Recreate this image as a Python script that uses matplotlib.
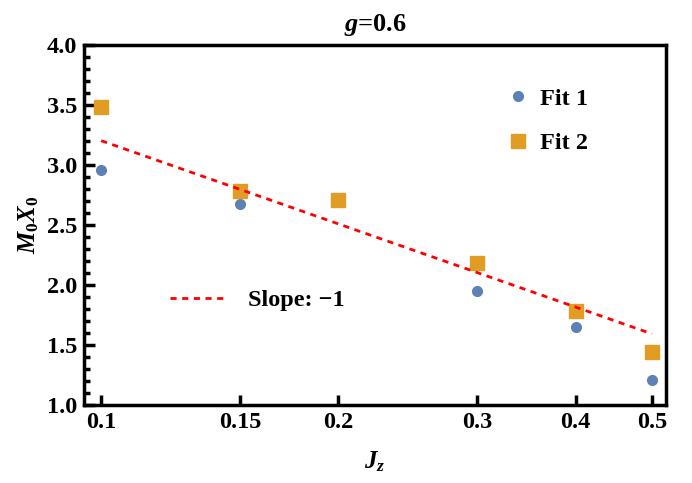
import numpy as np
import matplotlib
matplotlib.use("Agg")
import matplotlib.pyplot as plt
from matplotlib.ticker import FixedLocator, FixedFormatter, NullLocator, MultipleLocator

plt.rcParams['font.family'] = ['Liberation Serif', 'DejaVu Serif']
plt.rcParams['mathtext.fontset'] = 'custom'
plt.rcParams['mathtext.it'] = 'Liberation Serif:italic:bold'
plt.rcParams['mathtext.rm'] = 'Liberation Serif:bold'
plt.rcParams['mathtext.bf'] = 'Liberation Serif:bold'

# Data
fit1_x = [0.1, 0.15, 0.3, 0.4, 0.5]
fit1_y = [2.96, 2.675, 1.95, 1.65, 1.21]
fit2_x = [0.1, 0.15, 0.2, 0.3, 0.4, 0.5]
fit2_y = [3.48, 2.78, 2.71, 2.18, 1.78, 1.44]
slope = -1.0
intercept = 0.9
line_x = np.array([0.1, 0.5])
xticks = [0.1, 0.15, 0.2, 0.3, 0.4, 0.5]
xtick_labels = ["0.1", "0.15", "0.2", "0.3", "0.4", "0.5"]
yticks = [1.0, 1.5, 2.0, 2.5, 3.0, 3.5, 4.0]

blue = '#5e81b5'
orange = '#e19c24'
FS = 17.5

fig = plt.figure(figsize=(6.92, 4.83), dpi=100)
ax = fig.add_axes([0.1214, 0.1615, 0.841, 0.7453])
ax.set_xscale('log')

h1, = ax.plot(fit1_x, fit1_y, 'o', color=blue, markersize=7, linestyle='none', label='Fit 1')
h2, = ax.plot(fit2_x, fit2_y, 's', color=orange, markersize=9.5, linestyle='none', label='Fit 2')
h3, = ax.plot(line_x, intercept + slope * np.log(line_x), color='red', linestyle=(0, (2.2, 2.0)),
              linewidth=2, label='Slope: \u22121')

ax.set_xlim(0.0951, 0.521)
ax.set_ylim(1.0, 4.0)
ax.xaxis.set_major_locator(FixedLocator(xticks))
ax.xaxis.set_major_formatter(FixedFormatter(xtick_labels))
ax.xaxis.set_minor_locator(NullLocator())
ax.set_yticks(yticks)
ax.set_yticklabels([f"{v:.1f}" for v in yticks])
ax.yaxis.set_minor_locator(MultipleLocator(0.1))

ax.tick_params(axis='both', which='both', direction='in', top=False, right=False,
               labelsize=FS, width=2.5, pad=5)
ax.tick_params(axis='y', which='major', length=8)
ax.tick_params(axis='y', which='minor', length=4, width=2.5)
ax.tick_params(axis='x', which='major', length=7)
for lab in ax.get_xticklabels() + ax.get_yticklabels():
    lab.set_fontweight('bold')
for sp in ax.spines.values():
    sp.set_linewidth(2.5)

ax.set_title(r'$g$=0.6', fontsize=19, fontweight='bold', pad=10)
ax.set_xlabel(r'$J_z$', fontsize=18, labelpad=12)
ax.set_ylabel(r'$M_0X_0$', fontsize=18, labelpad=4)

leg1 = ax.legend(handles=[h1, h2], loc='upper left', bbox_to_anchor=(0.688, 0.942), frameon=False,
                 prop={'weight': 'bold', 'size': FS}, handlelength=1.0, handletextpad=0.4,
                 labelspacing=0.92)
ax.add_artist(leg1)
ax.legend(handles=[h3], loc='upper left', bbox_to_anchor=(0.111, 0.382), frameon=False,
          prop={'weight': 'bold', 'size': FS}, handlelength=2.2, handletextpad=1.0)

fig.savefig('out.png', dpi=100)
